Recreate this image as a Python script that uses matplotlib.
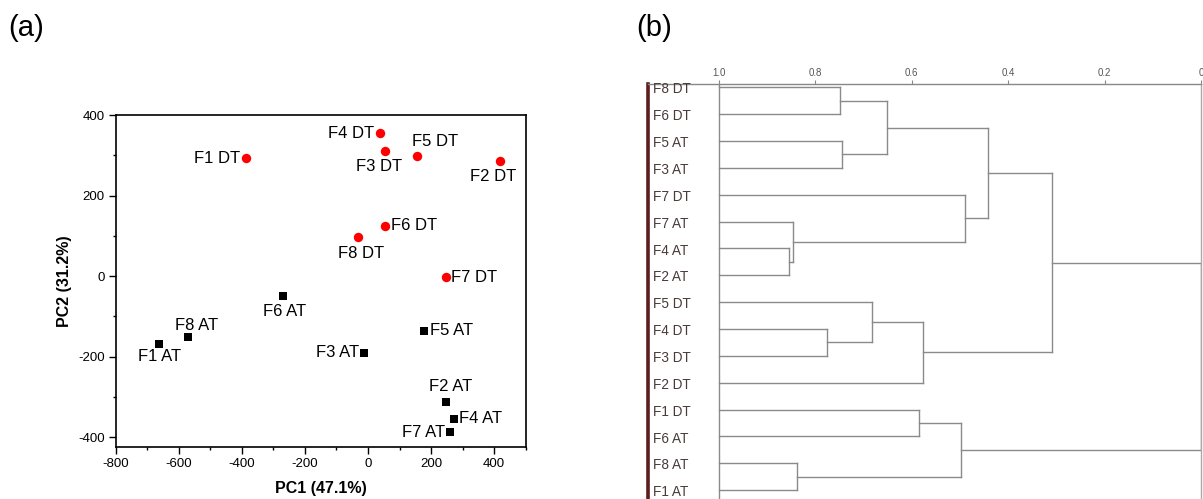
import matplotlib
matplotlib.use("Agg")
import matplotlib.pyplot as plt
from matplotlib.ticker import MultipleLocator

plt.rcParams['font.family'] = ['Liberation Sans', 'DejaVu Sans']
plt.rcParams['axes.unicode_minus'] = False

# ---------------- PCA data ----------------
dt_labels = ["F1 DT", "F2 DT", "F3 DT", "F4 DT", "F5 DT", "F6 DT", "F7 DT", "F8 DT"]
dt_pc1 = [-387, 420, 53, 37, 154, 53, 247, -33]
dt_pc2 = [293, 286, 311, 355, 298, 125, -3, 96]

at_labels = ["F1 AT", "F2 AT", "F3 AT", "F4 AT", "F5 AT", "F6 AT", "F7 AT", "F8 AT"]
at_pc1 = [-662, 247, -12, 272, 177, -270, 260, -570]
at_pc2 = [-169, -312, -190, -355, -136, -50, -388, -152]

x_ticks = [-800, -600, -400, -200, 0, 200, 400]
y_ticks = [-400, -200, 0, 200, 400]

# label offsets (pixels) and alignment per point
dt_offsets = {
    "F1 DT": ((-6, 0), "right", "center"),
    "F2 DT": ((-7, -16), "center", "center"),
    "F3 DT": ((-6, -16), "center", "center"),
    "F4 DT": ((-6, 0), "right", "center"),
    "F5 DT": ((18, 15), "center", "center"),
    "F6 DT": ((6, 0), "left", "center"),
    "F7 DT": ((5, 0), "left", "center"),
    "F8 DT": ((3, -16), "center", "center"),
}
at_offsets = {
    "F1 AT": ((0, -12), "center", "center"),
    "F2 AT": ((5, 15), "center", "center"),
    "F3 AT": ((-5, 0), "right", "center"),
    "F4 AT": ((5, 0), "left", "center"),
    "F5 AT": ((6, 0), "left", "center"),
    "F6 AT": ((2, -15), "center", "center"),
    "F7 AT": ((-5, 0), "right", "center"),
    "F8 AT": ((8, 12), "center", "center"),
}

# ---------------- Dendrogram data ----------------
leaf_order = ["F8 DT", "F6 DT", "F5 AT", "F3 AT", "F7 DT", "F7 AT", "F4 AT", "F2 AT",
              "F5 DT", "F4 DT", "F3 DT", "F2 DT", "F1 DT", "F6 AT", "F8 AT", "F1 AT"]
# merges: (child_a, child_b) ; new node ids start at 16
merge_pairs = [(0, 1), (2, 3), (16, 17), (6, 7), (5, 19), (4, 20), (18, 21),
               (9, 10), (8, 23), (24, 11), (22, 25), (12, 13), (14, 15), (27, 28), (26, 29)]
merge_sim = [0.750, 0.744, 0.652, 0.855, 0.846, 0.489, 0.442,
             0.777, 0.683, 0.576, 0.309, 0.585, 0.839, 0.498, 0.0]
sim_ticks = [1.0, 0.8, 0.6, 0.4, 0.2, 0.0]
sim_tick_labels = ["1.0", "0.8", "0.6", "0.4", "0.2", "0"]

W, H = 1203, 499
fig = plt.figure(figsize=(W / 100, H / 100), dpi=100)

# ---------------- Panel (a) ----------------
L, R, T, B = 115.7, 525.7, 115, 446.7
ax = fig.add_axes([L / W, 1 - B / H, (R - L) / W, (B - T) / H])
ax.scatter(dt_pc1, dt_pc2, s=46, c="#ff0000", marker="o", zorder=3, linewidths=0)
ax.scatter(at_pc1, at_pc2, s=30, c="black", marker="s", zorder=3, linewidths=0)
for lab, x, y in zip(dt_labels, dt_pc1, dt_pc2):
    (dx, dy), ha, va = dt_offsets[lab]
    ax.annotate(lab, (x, y), xytext=(dx * 0.72, dy * 0.72), textcoords="offset points",
                ha=ha, va=va, fontsize=12)
for lab, x, y in zip(at_labels, at_pc1, at_pc2):
    (dx, dy), ha, va = at_offsets[lab]
    ax.annotate(lab, (x, y), xytext=(dx * 0.72, dy * 0.72), textcoords="offset points",
                ha=ha, va=va, fontsize=12)
ax.set_xlim(-800, 500)
ax.set_ylim(-424, 400)
ax.set_xticks(x_ticks)
ax.set_yticks(y_ticks)
ax.xaxis.set_minor_locator(MultipleLocator(100))
ax.yaxis.set_minor_locator(MultipleLocator(100))
ax.tick_params(which="major", direction="out", length=5, width=1, labelsize=9.5, pad=3)
ax.tick_params(which="minor", direction="out", length=2.5, width=1)
for sp in ax.spines.values():
    sp.set_linewidth(1.2)
ax.set_xlabel("PC1 (47.1%)", fontsize=11.5, fontweight="bold", labelpad=8)
ax.set_ylabel("PC2 (31.2%)", fontsize=11.5, fontweight="bold", labelpad=4)

fig.text(8 / W, 1 - 28 / H, "(a)", fontsize=21, va="center", ha="left")
fig.text(636 / W, 1 - 28 / H, "(b)", fontsize=21, va="center", ha="left")

# ---------------- Panel (b) ----------------
L2, R2, T2 = 647.5, 1201, 83.5
ax2 = fig.add_axes([L2 / W, 0, (R2 - L2) / W, 1 - T2 / H])
ax2.set_xlim(1.1485, 0.0)
ax2.set_ylim(15.33, -0.14)

line_c = "#8a8a8a"
n = len(leaf_order)
ypos = {i: float(i) for i in range(n)}
xpos = {i: 1.0 for i in range(n)}
for k, ((a, b), s) in enumerate(zip(merge_pairs, merge_sim)):
    node = n + k
    ax2.plot([xpos[a], s], [ypos[a], ypos[a]], color=line_c, lw=1.0)
    ax2.plot([xpos[b], s], [ypos[b], ypos[b]], color=line_c, lw=1.0)
    ax2.plot([s, s], [ypos[a], ypos[b]], color=line_c, lw=1.0)
    xpos[node] = s
    ypos[node] = (ypos[a] + ypos[b]) / 2
# vertical baseline at similarity 1.0
ax2.plot([1.0, 1.0], [-0.14, 15.33], color=line_c, lw=1.0)

for i, lab in enumerate(leaf_order):
    ax2.text(1.137, i + 0.08, lab, fontsize=9.8, color="#4a3a3a", ha="left", va="center")

ax2.set_xticks(sim_ticks)
ax2.set_xticklabels(sim_tick_labels)
ax2.set_yticks([])
ax2.xaxis.tick_top()
ax2.tick_params(axis="x", direction="out", length=3, width=0.8, color="#888888",
                labelsize=7, labelcolor="#555555", pad=1)
ax2.spines["left"].set_color("#5c1e1e")
ax2.spines["left"].set_linewidth(2.6)
ax2.spines["top"].set_color("#888888")
ax2.spines["top"].set_linewidth(1.0)
ax2.spines["right"].set_color("#aaaaaa")
ax2.spines["right"].set_linestyle((0, (1, 1)))
ax2.spines["right"].set_linewidth(1.0)
ax2.spines["bottom"].set_visible(False)

fig.savefig("out.png", dpi=100)
